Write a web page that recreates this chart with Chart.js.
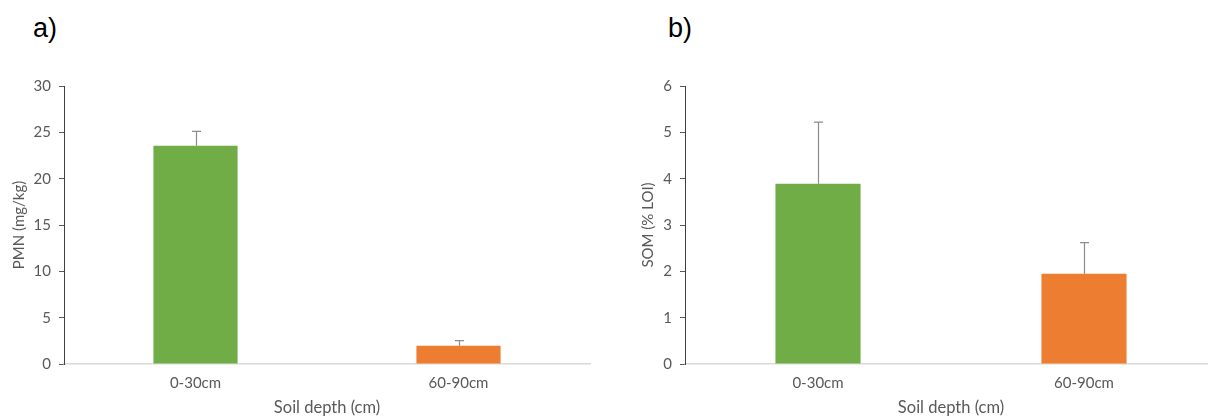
<!DOCTYPE html>
<html>
<head>
<meta charset="utf-8">
<script src="https://cdn.jsdelivr.net/npm/chart.js@4.4.1/dist/chart.umd.min.js"></script>
<style>
  html, body { margin: 0; padding: 0; background: #fff; width: 1208px; height: 419px; overflow: hidden; }
  .panel { position: absolute; top: 0; width: 600px; height: 419px; }
  .tag { position: absolute; top: 13px; font: 27px "Liberation Sans", Arial, sans-serif; color: #000; }
</style>
</head>
<body>
<div class="tag" style="left:33px">a)</div>
<div class="tag" style="left:668px">b)</div>
<div class="panel" style="left:0px"><canvas id="chartA"></canvas></div>
<div class="panel" style="left:621px"><canvas id="chartB"></canvas></div>
<script>
// Data
const depths = ['0-30cm', '60-90cm'];
const barColors = ['#70ad47', '#ed7d31'];

const pmnMeans = [23.55, 1.98];
const pmnUpper = [25.1, 2.52];   // top of error bar

const somMeans = [3.89, 1.95];
const somUpper = [5.22, 2.62];

const FONT = 'Lato, "Open Sans", sans-serif';
const GREY = '#595959';

// draws the upward error whiskers
const errorBars = {
    id: 'errorBars',
    afterDatasetsDraw(chart, args, opts) {
        const c = chart.ctx;
        const y = chart.scales.y;
        const meta = chart.getDatasetMeta(0);
        c.save();
        c.strokeStyle = '#8c8c8c';
        c.lineWidth = 1.2;
        meta.data.forEach((bar, i) => {
            const x = Math.round(bar.x) + 0.5;
            const y0 = y.getPixelForValue(opts.means[i]);
            const y1 = y.getPixelForValue(opts.upper[i]);
            c.beginPath();
            c.moveTo(x, y0);
            c.lineTo(x, y1);
            c.moveTo(x - 4.5, y1);
            c.lineTo(x + 4.5, y1);
            c.stroke();
        });
        c.restore();
    }
};

function makeChart(id, means, upper, yMax, yStep, yTitle, titlePad, padRight) {
    return new Chart(document.getElementById(id), {
        type: 'bar',
        data: {
            labels: depths,
            datasets: [{
                data: means,
                backgroundColor: barColors,
                borderWidth: 0,
                categoryPercentage: 1,
                barPercentage: 0.32
            }]
        },
        options: {
            responsive: true,
            maintainAspectRatio: false,
            animation: false,
            layout: { padding: { top: 86, right: padRight, left: 0, bottom: 0 } },
            plugins: {
                legend: { display: false },
                tooltip: { enabled: false },
                errorBars: { means: means, upper: upper }
            },
            scales: {
                x: {
                    grid: { display: true, drawOnChartArea: false, drawTicks: false },
                    border: { color: '#d9d9d9', width: 1.5 },
                    ticks: { color: GREY, font: { family: FONT, size: 15 }, padding: 10 },
                    title: { display: true, text: 'Soil depth (cm)', color: GREY,
                             font: { family: FONT, size: 16.5 }, padding: { top: 1, bottom: 1 } },
                    afterFit: s => { s.height = 55; }
                },
                y: {
                    min: 0, max: yMax,
                    grid: { display: true, drawOnChartArea: false, drawTicks: true, tickLength: 5, color: GREY },
                    border: { color: '#404040', width: 1 },
                    ticks: { stepSize: yStep, color: GREY, font: { family: FONT, size: 15 }, padding: 8 },
                    title: { display: true, text: yTitle, color: GREY,
                             font: { family: FONT, size: 15 }, padding: { top: titlePad, bottom: 0 } },
                    afterFit: s => { s.width = 64; }
                }
            }
        },
        plugins: [errorBars]
    });
}

makeChart('chartA', pmnMeans, pmnUpper, 30, 5, 'PMN (mg/kg)', 10, 10);
makeChart('chartB', somMeans, somUpper, 6, 1, 'SOM (% LOI)', 18, 4);
</script>
</body>
</html>
